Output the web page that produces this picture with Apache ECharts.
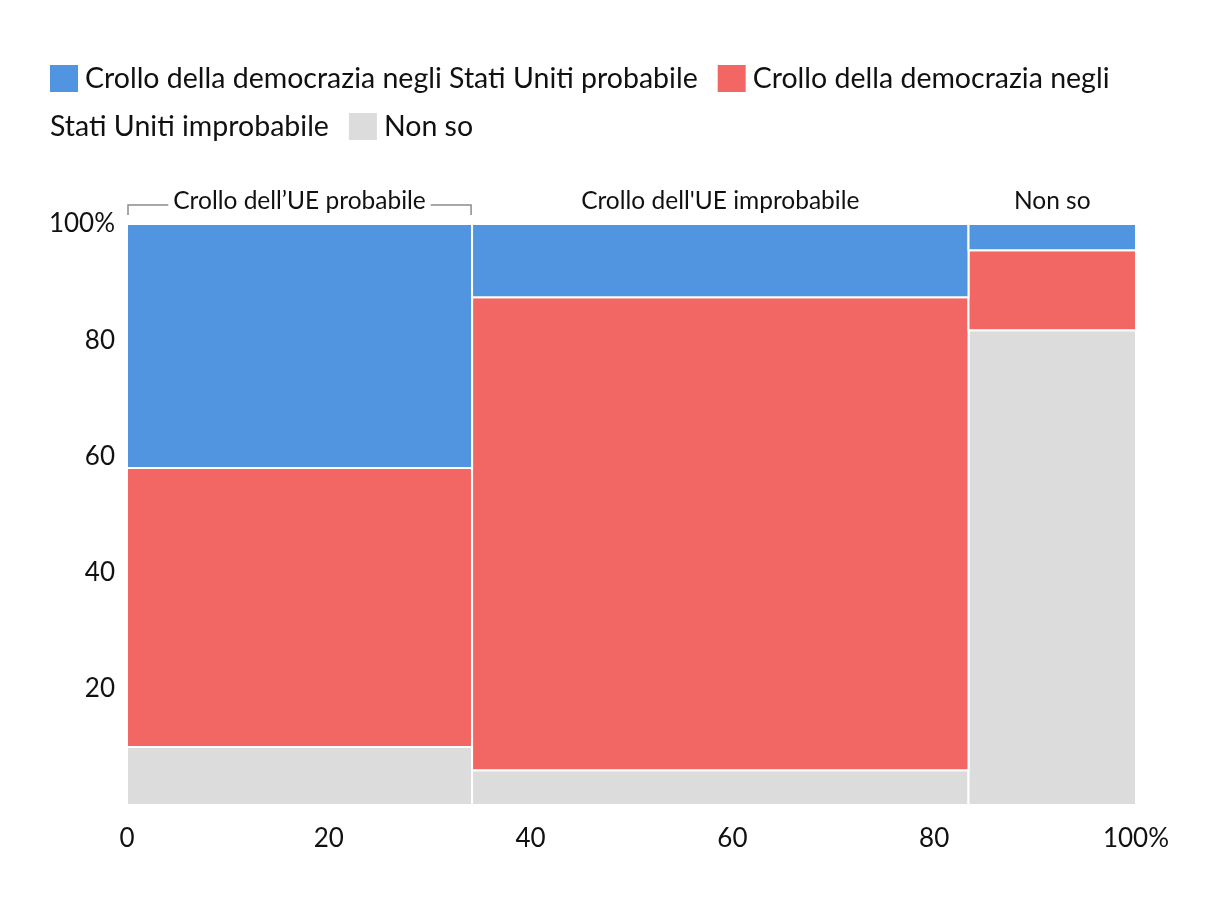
<!DOCTYPE html>
<html><head><meta charset="utf-8">
<script src="https://cdn.jsdelivr.net/npm/echarts@6/dist/echarts.min.js"></script>
<style>html,body{margin:0;padding:0;background:#fff}#c{width:1220px;height:910px}</style>
</head><body><div id="c"></div>
<script>
// ---- data ----
const columns = ["Crollo dell\u2019UE probabile", "Crollo dell'UE improbabile", "Non so"];
const columnWidths = [34.2, 49.2, 16.6];
const seriesNames = [
  "Crollo della democrazia negli Stati Uniti probabile",
  "Crollo della democrazia negli Stati Uniti improbabile",
  "Non so"
];
const blueVals = [42, 12.6, 4.5];
const redVals = [48, 81.4, 13.8];
const greyVals = [10, 6, 81.7];
const xTickLabels = ["0", "20", "40", "60", "80", "100%"];
const yTickLabels = ["", "20", "40", "60", "80", "100%"];

const colors = ["#5195E1", "#F26763", "#DCDCDC"];
const FONT = "Lato";

// build rect data [x0, x1, y0, y1]
const starts = [];
let acc = 0;
columnWidths.forEach(w => { starts.push(acc); acc += w; });
const greyData = [], redData = [], blueData = [];
columns.forEach((c, i) => {
  const x0 = starts[i], x1 = starts[i] + columnWidths[i];
  const g = greyVals[i], r = redVals[i], b = blueVals[i];
  greyData.push([x0, x1, 0, g]);
  redData.push([x0, x1, g, g + r]);
  blueData.push([x0, x1, g + r, g + r + b]);
});
const headerData = columns.map((c, i) => [starts[i], starts[i] + columnWidths[i], 100, i]);

function rectItem(params, api) {
  const p0 = api.coord([api.value(0), api.value(2)]);
  const p1 = api.coord([api.value(1), api.value(3)]);
  return {
    type: 'rect',
    shape: { x: p0[0], y: p1[1], width: p1[0] - p0[0], height: p0[1] - p1[1] },
    style: { fill: api.visual('color'), stroke: '#fff', lineWidth: 2 }
  };
}

function headerItem(params, api) {
  const i = api.value(3);
  const pa = api.coord([api.value(0), api.value(2)]);
  const pb = api.coord([api.value(1), api.value(2)]);
  const cx = (pa[0] + pb[0]) / 2;
  const ty = pa[1] - 23;
  const children = [];
  if (i === 0) {
    children.push({
      type: 'polyline',
      shape: { points: [[pa[0] + 1, pa[1] - 9], [pa[0] + 1, pa[1] - 19], [pb[0] - 1, pa[1] - 19], [pb[0] - 1, pa[1] - 9]] },
      style: { stroke: '#8c8c8c', lineWidth: 1.5, fill: null }
    });
  }
  children.push({
    type: 'text',
    x: cx, y: ty,
    style: {
      text: columns[i], font: '24.5px ' + FONT, fill: '#111',
      align: 'center', verticalAlign: 'middle',
      backgroundColor: '#fff', padding: [0, 5]
    }
  });
  return { type: 'group', children };
}

const chart = echarts.init(document.getElementById('c'), null, { renderer: 'canvas' });
chart.setOption({
  backgroundColor: '#fff',
  animation: false,
  textStyle: { fontFamily: FONT },
  legend: { show: false },
  grid: { left: 127, right: 84, top: 224, bottom: 105, containLabel: false },
  xAxis: {
    type: 'value', min: 0, max: 100, interval: 20,
    axisLine: { show: false }, axisTick: { show: false }, splitLine: { show: false },
    axisLabel: {
      fontSize: 26, color: '#111', margin: 21, fontFamily: FONT,
      formatter: v => xTickLabels[Math.round(v / 20)]
    }
  },
  yAxis: {
    type: 'value', min: 0, max: 100, interval: 20,
    axisLine: { show: false }, axisTick: { show: false }, splitLine: { show: false },
    axisLabel: {
      fontSize: 26, color: '#111', margin: 12, fontFamily: FONT,
      formatter: v => yTickLabels[Math.round(v / 20)]
    }
  },
  series: [
    { name: seriesNames[2], type: 'custom', renderItem: rectItem, itemStyle: { color: colors[2] },
      encode: { x: [0, 1], y: [2, 3] }, data: greyData },
    { name: seriesNames[1], type: 'custom', renderItem: rectItem, itemStyle: { color: colors[1] },
      encode: { x: [0, 1], y: [2, 3] }, data: redData },
    { name: seriesNames[0], type: 'custom', renderItem: rectItem, itemStyle: { color: colors[0] },
      encode: { x: [0, 1], y: [2, 3] }, data: blueData },
    { name: 'headers', type: 'custom', renderItem: headerItem, silent: true, clip: false,
      encode: { x: [0, 1], y: 2 }, data: headerData }
  ],
  graphic: [{
    type: 'text', left: 50, top: 64,
    style: {
      text: '{b| }{t|' + seriesNames[0] + '}{s| }{r| }{t|Crollo della democrazia negli}\n' +
            '{t0|Stati Uniti improbabile}{s| }{g| }{t|' + seriesNames[2] + '}',
      font: '28.5px ' + FONT, fill: '#111',
      rich: {
        b: { width: 28, height: 27, backgroundColor: colors[0], lineHeight: 48 },
        r: { width: 28, height: 27, backgroundColor: colors[1], lineHeight: 48 },
        g: { width: 28, height: 27, backgroundColor: colors[2], lineHeight: 48 },
        s: { width: 20, lineHeight: 48 },
        t: { fontSize: 28.5, fontFamily: FONT, color: '#111', padding: [0, 0, 0, 7], lineHeight: 48 },
        t0: { fontSize: 28.5, fontFamily: FONT, color: '#111', lineHeight: 48 }
      }
    }
  }]
});
</script>
</body></html>
